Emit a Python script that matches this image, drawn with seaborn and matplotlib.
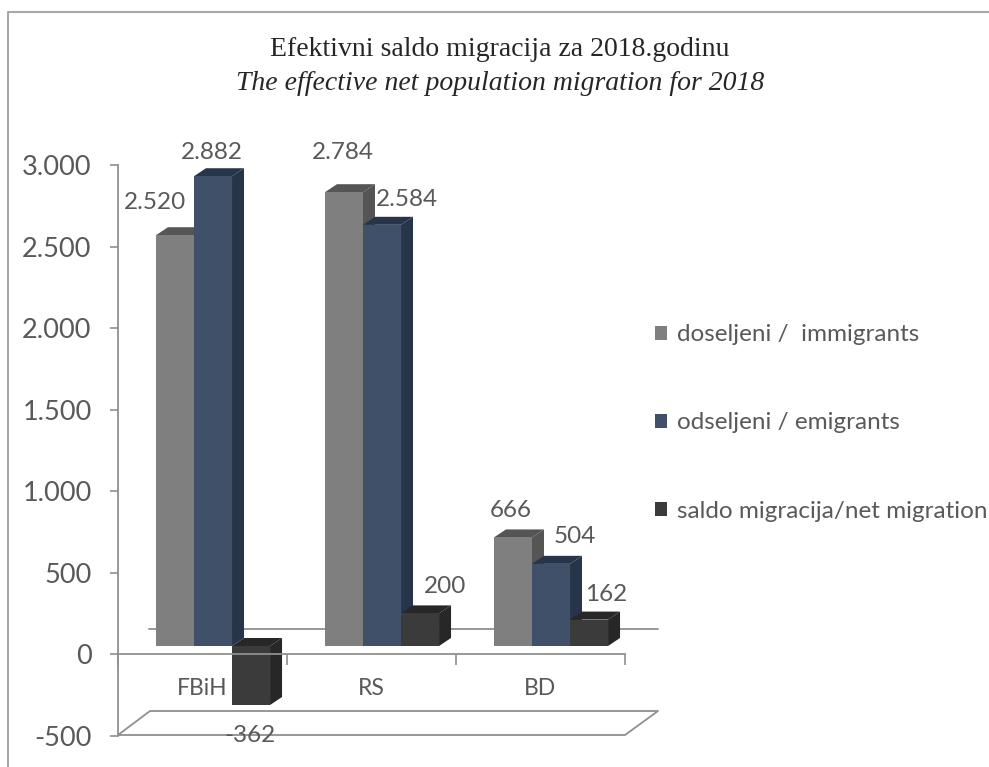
import matplotlib
matplotlib.use("Agg")
import matplotlib.pyplot as plt
from matplotlib.lines import Line2D
from matplotlib.patches import Patch, Polygon
import pandas as pd
import seaborn as sns

regions = ["FBiH", "RS", "BD"]
series_names = ["doseljeni /  immigrants", "odseljeni / emigrants", "saldo migracija/net migration"]
immigrants = [2520, 2784, 666]
emigrants = [2882, 2584, 504]
net_migration = [-362, 200, 162]
y_ticks = [-500, 0, 500, 1000, 1500, 2000, 2500, 3000]

front_colors = ["#7f7f7f", "#3f5068", "#3b3b3b"]
side_colors = ["#555555", "#26354a", "#272727"]
text_color = "#595959"
line_color = "#8f8f8f"

W, H = 989, 767
sns.set_theme(style="white")
plt.rcParams["font.family"] = ["Lato", "DejaVu Sans"]
fig = plt.figure(figsize=(W / 100, H / 100), dpi=100, facecolor="white")


def box(x0, y_top, x1, y_bot):
    return [x0 / W, 1 - y_bot / H, (x1 - x0) / W, (y_bot - y_top) / H]


def fig_line(xs, ys, color=line_color, lw=1.3):
    fig.add_artist(Line2D([x / W for x in xs], [1 - y / H for y in ys],
                          transform=fig.transFigure, color=color, lw=lw, zorder=-1))


# chart frame
fig_line([8, 8, W], [H, 12, 12], color="#a8a8a8", lw=1.5)
# floor of the 3D plot
fig_line([118, 150, 658, 625, 118], [735, 711, 711, 735, 735])
fig_line([149, 658], [629, 629])

df = pd.DataFrame({
    "region": regions * 3,
    "series": [s for s in series_names for _ in regions],
    "value": immigrants + emigrants + net_migration,
})

# bars: shifted into the 3D floor relative to the axis
ax_b = fig.add_axes(box(128.5, 157, 635.5, 727.5), facecolor="none", zorder=1)
sns.barplot(data=df, x="region", y="value", hue="series", order=regions, hue_order=series_names,
            palette=front_colors, width=0.675, gap=0, saturation=1, legend=False, ax=ax_b,
            edgecolor="none", linewidth=0, errorbar=None)
ax_b.set_xlim(-0.5, 2.5)
ax_b.set_ylim(-500, 3000)
ax_b.axis("off")

dx = 12 / 169
dy = 8 / (570 / 3500)
offsets = [[(-20, 33), (-1, 40), (-2, 27)],
           [(-1, 24), (25, 25), (24, 27)],
           [(-1, -30), (25, 27), (17, 25)]]
bars = [c for c in ax_b.containers]
for h, cont in enumerate(bars):
    for c, rect in enumerate(cont.patches):
        x0, x1 = rect.get_x(), rect.get_x() + rect.get_width()
        y_a, y_b = sorted((rect.get_y(), rect.get_y() + rect.get_height()))
        z = 3 + h * 3
        rect.set_zorder(z + 2)
        ax_b.add_patch(Polygon([(x1, y_a), (x1 + dx, y_a + dy), (x1 + dx, y_b + dy), (x1, y_b)],
                               closed=True, fc=side_colors[h], ec="none", zorder=z + 1))
        ax_b.add_patch(Polygon([(x0, y_b), (x0 + dx, y_b + dy), (x1 + dx, y_b + dy), (x1, y_b)],
                               closed=True, fc=side_colors[h], ec="none", zorder=z))
        value = [immigrants, emigrants, net_migration][h][c]
        anchor = y_a if value < 0 else y_b
        ax_b.annotate(f"{value:,}".replace(",", "."), ((x0 + x1) / 2, anchor),
                      xytext=offsets[h][c], textcoords="offset pixels",
                      ha="center", va="center", fontsize=17.5, color=text_color, zorder=30,
                      annotation_clip=False)

# value axis and category axis
ax = fig.add_axes(box(118, 165.5, 625, 735.5), facecolor="none", zorder=2)
ax.set_xlim(-0.5, 2.5)
ax.set_ylim(-500, 3000)
ax.set_yticks(y_ticks)
ax.set_yticklabels([f"{v:,}".replace(",", ".") for v in y_ticks])
ax.set_xticks([-0.5, 0.5, 1.5, 2.5])
ax.set_xticklabels([])
ax.set_xticks([0, 1, 2], minor=True)
ax.set_xticklabels(regions, minor=True)
ax.tick_params(axis="y", left=True, length=6, width=1.2, color=line_color, pad=13,
               labelsize=19.5, labelcolor=text_color)
ax.tick_params(axis="x", which="major", bottom=True, length=8, width=1.2, color=line_color, direction="out")
ax.tick_params(axis="x", which="minor", bottom=False, length=0, pad=17, labelsize=16.5, labelcolor=text_color)
for side in ["top", "right"]:
    ax.spines[side].set_visible(False)
ax.spines["left"].set_color(line_color)
ax.spines["left"].set_linewidth(1.3)
ax.spines["bottom"].set_position(("data", 0))
ax.spines["bottom"].set_color(line_color)
ax.spines["bottom"].set_linewidth(1.3)

handles = [Patch(facecolor=col, edgecolor="none") for col in front_colors]
fig.legend(handles, series_names, loc="center left", bbox_to_anchor=(655 / W, 1 - 423 / H),
           frameon=False, fontsize=17.5, labelcolor=text_color, handlelength=0.5, handleheight=0.5,
           handletextpad=0.42, labelspacing=2.76, borderpad=0, borderaxespad=0)

fig.text(500 / W, 1 - 49 / H, "Efektivni saldo migracija za 2018.godinu", ha="center", va="center",
         family="Liberation Serif", fontsize=20, color="#262626")
fig.text(500 / W, 1 - 83 / H, "The effective net population migration for 2018", ha="center", va="center",
         family="Liberation Serif", style="italic", fontsize=20, color="#262626")

fig.savefig("out.png", dpi=100, facecolor="white")
